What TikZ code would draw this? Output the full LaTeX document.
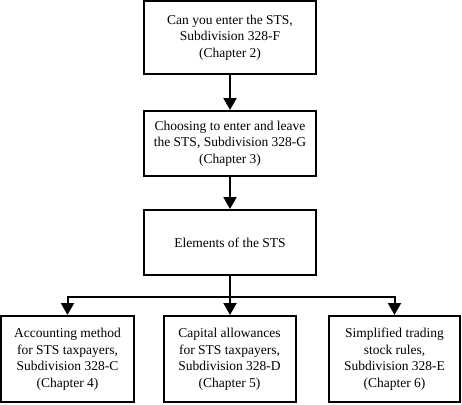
\documentclass[tikz,border=0pt]{standalone}
\usepackage{fontspec}
\setmainfont{Liberation Serif}
\usetikzlibrary{arrows.meta}
\begin{document}
\begin{tikzpicture}[x=1pt,y=-1pt,
  box/.style={draw,line width=2pt,align=center,inner sep=0pt,
    font=\fontsize{13.5}{16.5}\selectfont},
  conn/.style={line width=2pt},
  arr/.style={conn,-{Triangle[length=12pt,width=13pt]}}]
\useasboundingbox (0,0) rectangle (462,404);
\node[box,minimum width=172pt,minimum height=73pt] (b1) at (230,37.5)
  {Can you enter the STS,\\Subdivision 328-F\\(Chapter 2)};
\node[box,minimum width=172pt,minimum height=65pt] (b2) at (230,143.5)
  {Choosing to enter and leave\\the STS, Subdivision 328-G\\(Chapter 3)};
\node[box,minimum width=172pt,minimum height=65pt] (b3) at (230,242.5)
  {Elements of the STS};
\node[box,minimum width=133pt,minimum height=86pt] (b4) at (67.5,359)
  {Accounting method\\for STS taxpayers,\\Subdivision 328-C\\(Chapter 4)};
\node[box,minimum width=132pt,minimum height=86pt] (b5) at (229.5,359)
  {Capital allowances\\for STS taxpayers,\\Subdivision 328-D\\(Chapter 5)};
\node[box,minimum width=131pt,minimum height=86pt] (b6) at (394.5,359)
  {Simplified trading\\stock rules,\\Subdivision 328-E\\(Chapter 6)};
\coordinate (j) at (230,297);
\draw[arr] (b1.south) -- (b2.north);
\draw[arr] (b2.south) -- (b3.north);
\draw[conn] (b3.south) -- (j);
\draw[arr] (j) -- (b5.north -| j);
\draw[arr] (j) -| (b4.north);
\draw[arr] (j) -| (b6.north);
\end{tikzpicture}
\end{document}
